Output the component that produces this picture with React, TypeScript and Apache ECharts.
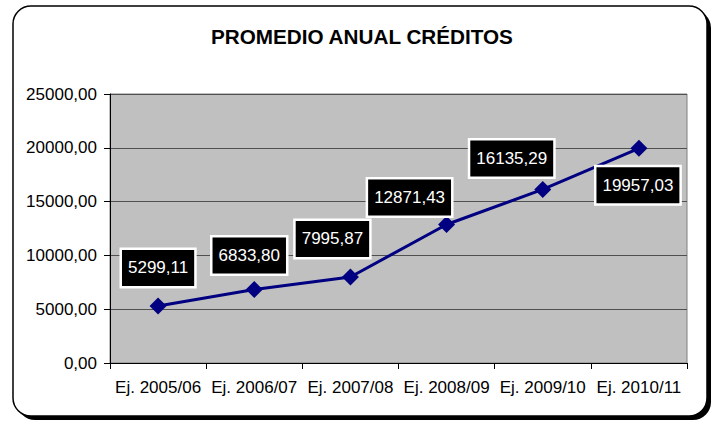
import React, { useEffect, useRef } from "react";
import * as echarts from "echarts";

const categories = ["Ej. 2005/06", "Ej. 2006/07", "Ej. 2007/08", "Ej. 2008/09", "Ej. 2009/10", "Ej. 2010/11"];
const values = [5299.11, 6833.8, 7995.87, 12871.43, 16135.29, 19957.03];
const labelOffsets: [number, number][] = [
  [0, -38],
  [-5, -34],
  [-18, -38],
  [-37, -27],
  [-31, -31],
  [-1, 37],
];
const yTicks = { min: 0, max: 25000, interval: 5000 };
const titleText = "PROMEDIO ANUAL CRÉDITOS";

const fmt = (v: number) => v.toFixed(2).replace(".", ",");
const FONT = "'Liberation Sans', Arial, sans-serif";

export default function App() {
  const ref = useRef<HTMLDivElement>(null);
  useEffect(() => {
    if (!ref.current) return;
    const chart = echarts.init(ref.current, null, { renderer: "svg" });
    chart.setOption({
      animation: false,
      backgroundColor: "#ffffff",
      graphic: [
        {
          type: "rect",
          z: -10,
          shape: { x: 17, y: 10, width: 694, height: 410, r: 18 },
          style: { fill: "#000000" },
          silent: true,
        },
        {
          type: "rect",
          z: -9,
          shape: { x: 13, y: 6, width: 694, height: 410, r: 18 },
          style: { fill: "#ffffff", stroke: "#000000", lineWidth: 1.5 },
          silent: true,
        },
      ],
      title: {
        text: titleText,
        left: 206,
        top: 21,
        textStyle: { fontFamily: FONT, fontSize: 20.7, fontWeight: "bold", color: "#000" },
      },
      grid: {
        left: 110,
        right: 30,
        top: 94,
        bottom: 60,
        show: true,
        backgroundColor: "#c0c0c0",
        borderColor: "#808080",
        borderWidth: 1,
      },
      xAxis: {
        type: "category",
        data: categories,
        boundaryGap: true,
        axisLine: { lineStyle: { color: "#000", width: 1 } },
        axisTick: { show: true, length: 6, lineStyle: { color: "#000" }, alignWithLabel: false },
        axisLabel: { fontFamily: FONT, fontSize: 17, color: "#000", margin: 16, interval: 0 },
      },
      yAxis: {
        type: "value",
        min: yTicks.min,
        max: yTicks.max,
        interval: yTicks.interval,
        axisLine: { show: true, lineStyle: { color: "#000", width: 1 } },
        axisTick: { show: true, length: 6, lineStyle: { color: "#000" } },
        axisLabel: { fontFamily: FONT, fontSize: 17, color: "#000", margin: 13, formatter: (v: number) => fmt(v) },
        splitLine: { show: true, lineStyle: { color: "#505050", width: 1 } },
      },
      series: [
        {
          type: "line",
          data: values.map((v, i) => ({
            value: v,
            label: { offset: labelOffsets[i] },
          })),
          lineStyle: { color: "#000080", width: 3 },
          itemStyle: { color: "#000080" },
          symbol: "diamond",
          symbolSize: 17,
          label: {
            show: true,
            position: "inside",
            formatter: (p: any) => fmt(p.value),
            fontFamily: FONT,
            fontSize: 17,
            color: "#ffffff",
            backgroundColor: "#000000",
            borderColor: "#ffffff",
            borderWidth: 2.5,
            padding: [10, 6, 9, 6],
          },
        },
      ],
    });
    return () => chart.dispose();
  }, []);
  return (
    <div
      ref={ref}
      style={{ position: "fixed", left: 0, top: 0, width: 717, height: 423 }}
    />
  );
}
